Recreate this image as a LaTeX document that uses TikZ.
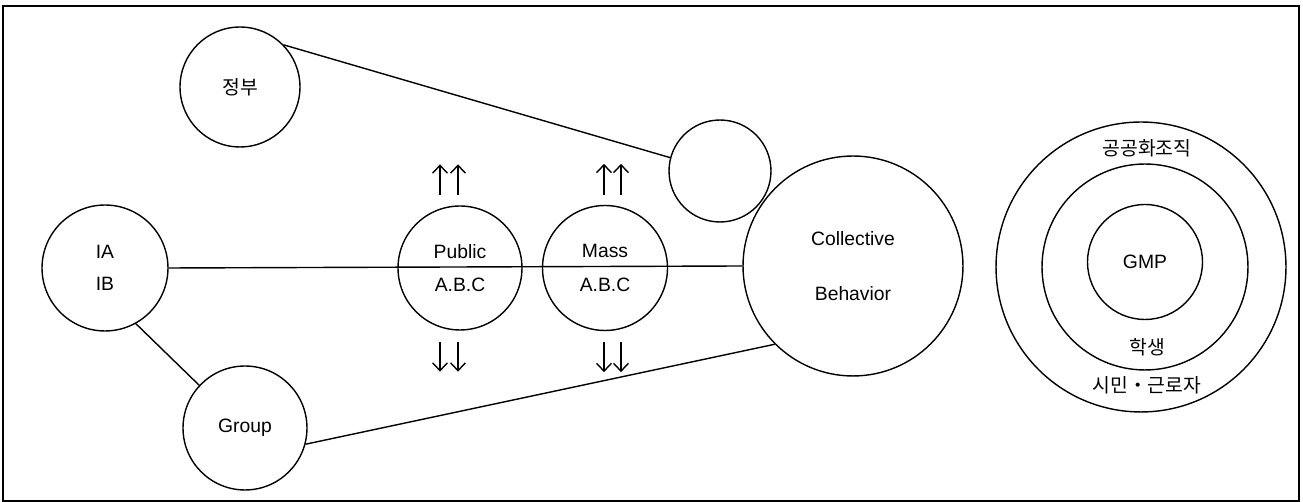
\documentclass[tikz,border=0pt]{standalone}
\usepackage{fontspec}
\setmainfont{Liberation Sans}
\newfontfamily\kr{Noto Sans CJK KR}
\usetikzlibrary{calc,arrows.meta}

\begin{document}
\begin{tikzpicture}[
  x = 0.02cm, y = -0.02cm, line width = 0.8pt,
  every node/.style = {font = \fontsize{11}{13}\selectfont},
  bub/.style = {draw, circle, inner sep = 0pt, minimum size = #1},
  arr/.style = {-{Straight Barb[length=4.5pt,width=8.5pt]}}
  ]
  \useasboundingbox (0,0) rectangle (1303,502);
  \draw[line width = 1pt] (3,6) rectangle (1299,501);

  \node[bub = 2.4cm] (gov) at (240,87) {\kr 정부};
  \node[bub = 2.52cm, align = center] (ia) at (105,268) {IA\\[5pt]IB};
  \node[bub = 2.48cm] (grp) at (245,428) {Group};
  \node[bub = 2.48cm, align = center] (pub) at (460,268) {Public\\[6pt]A.B.C};
  \node[bub = 2.5cm, align = center] (mass) at (605,268) {Mass\\[6pt]A.B.C};
  \node[bub = 2.04cm] (sm) at (720,171) {};
  \node[bub = 4.4cm, align = center] (cb) at (853,266) {Collective\\[18pt]Behavior};

  \node[bub = 5.8cm] (outer) at (1141,267) {};
  \node[bub = 4.12cm] (mid) at (1145,267) {};
  \node[bub = 2.3cm] (gmp) at (1145,262) {GMP};
  \node (org) at (1147,148) {\kr 공공화조직};
  \node (stu) at (1147,347) {\kr 학생};
  \node (cit) at (1147,385) {\kr 시민・근로자};

  \draw (gov.44) -- (sm.165);
  \draw (ia.east) -- (cb.west);
  \draw (ia.-61) -- (grp.137);
  \draw (grp.-15) -- (cb.-135);

  \foreach \n/\dx in {pub/-20, pub/-2, mass/-1, mass/16} {
    \draw[arr] ($(\n.north)+(\dx,-10)$) -- ++(0,-31);
    \draw[arr] ($(\n.south)+(\dx,11)$) -- ++(0,30);
  }
\end{tikzpicture}
\end{document}
